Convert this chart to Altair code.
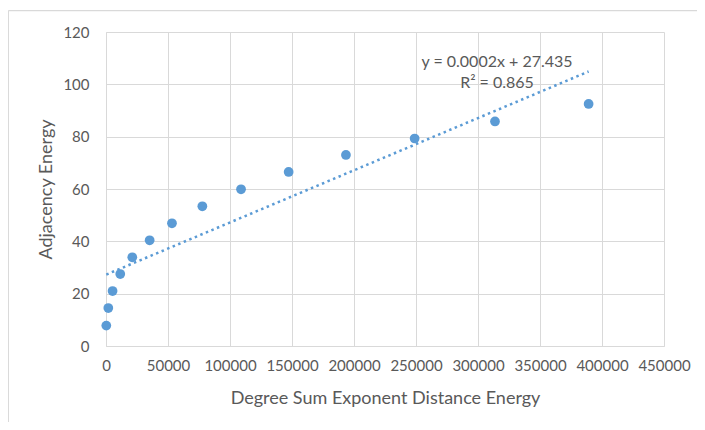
import altair as alt
import pandas as pd

# Data
x_vals = [240, 1850, 5300, 11500, 21200, 35200, 53200, 77700, 108900,
          147300, 193500, 248900, 313700, 389200]
y_vals = [7.8, 14.5, 21.0, 27.5, 33.9, 40.4, 46.9, 53.4, 59.9,
          66.5, 73.0, 79.3, 85.8, 92.5]
x_ticks = [0, 50000, 100000, 150000, 200000, 250000, 300000, 350000, 400000, 450000]
y_ticks = [0, 20, 40, 60, 80, 100, 120]
eq_lines = ["y = 0.0002x + 27.435", "R² = 0.865"]

df = pd.DataFrame({"x": x_vals, "y": y_vals})

BLUE = "#5b9bd5"
GREY = "#595959"
GRID = "#d9d9d9"
FONT = "Lato"

W, H = 558, 314

xenc = alt.X("x:Q", scale=alt.Scale(domain=[0, 450000], nice=False),
             axis=alt.Axis(values=x_ticks, format="d", title="Degree Sum Exponent Distance Energy",
                           grid=True, gridColor=GRID, domainColor=GRID, ticks=False,
                           labelPadding=12, labelFontSize=15, labelColor=GREY, labelFont=FONT,
                           titleFontSize=18, titleColor=GREY, titleFont=FONT, titleFontWeight="normal",
                           titleX=W / 2, titleY=52, titleBaseline="middle", labelFlush=False))
yenc = alt.Y("y:Q", scale=alt.Scale(domain=[0, 120], nice=False),
             axis=alt.Axis(values=y_ticks, title="Adjacency Energy",
                           grid=True, gridColor=GRID, domainColor=GRID, ticks=False,
                           labelPadding=17, labelFontSize=15, labelColor=GREY, labelFont=FONT,
                           titleFontSize=18, titleColor=GREY, titleFont=FONT, titleFontWeight="normal",
                           titleX=-60, titleY=H / 2, titleBaseline="middle", titleAngle=-90,
                           titleAlign="center"))

base = alt.Chart(df)

points = base.mark_circle(size=95, color=BLUE, opacity=1).encode(x=xenc, y=yenc)

trend = base.transform_regression("x", "y").mark_line(
    color=BLUE, strokeWidth=2.5, strokeDash=[2.5, 3.5]
).encode(x="x:Q", y="y:Q")

eq1 = alt.Chart(pd.DataFrame({"t": [eq_lines[0]]})).mark_text(
    fontSize=16, color=GREY, font=FONT, align="center", baseline="middle"
).encode(text="t:N", x=alt.value(391), y=alt.value(30))
eq2 = alt.Chart(pd.DataFrame({"t": [eq_lines[1]]})).mark_text(
    fontSize=16, color=GREY, font=FONT, align="center", baseline="middle"
).encode(text="t:N", x=alt.value(391), y=alt.value(51))

frame_top = alt.Chart(df.head(1)).mark_rule(color=GRID, strokeWidth=1.3).encode(
    x=alt.value(-97.7), x2=alt.value(620), y=alt.value(-21.3))
frame_left = alt.Chart(df.head(1)).mark_rule(color=GRID, strokeWidth=1.3).encode(
    x=alt.value(-97.7), y=alt.value(-21.3), y2=alt.value(420))

chart = alt.layer(points, trend, eq1, eq2, frame_top, frame_left).properties(
    width=W, height=H,
    autosize=alt.AutoSizeParams(type="none"),
    padding={"left": 98, "top": 24, "right": 33, "bottom": 76},
    background="white",
).configure_view(stroke=None)

chart.save("out.html", embed_options={"renderer": "svg", "actions": False})
